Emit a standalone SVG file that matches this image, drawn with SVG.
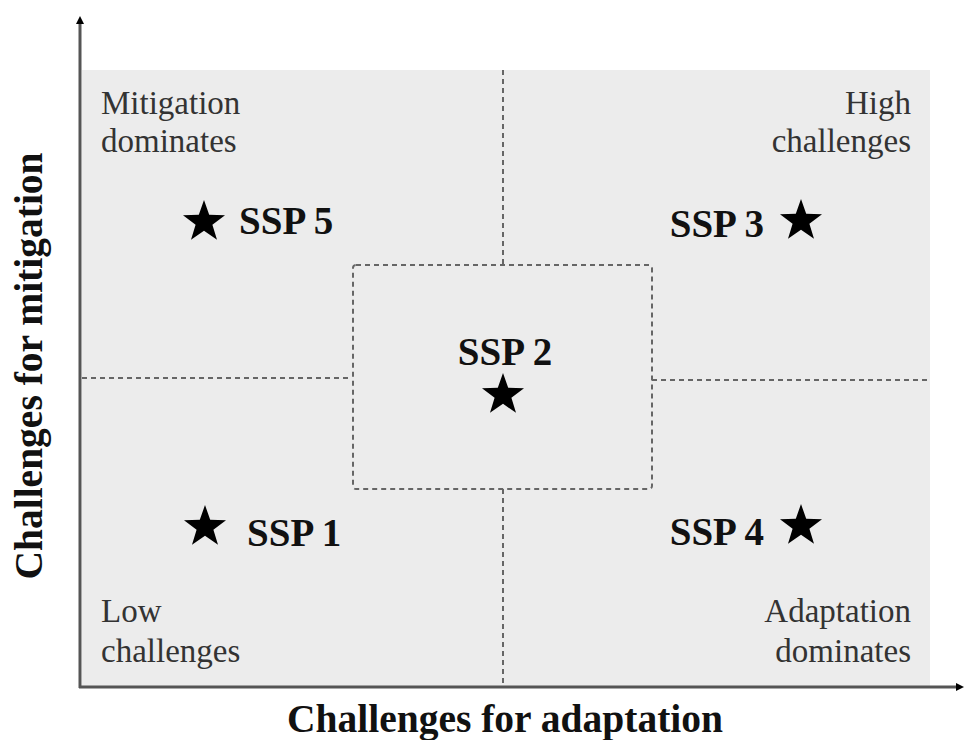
<svg xmlns="http://www.w3.org/2000/svg" width="967" height="740" viewBox="0 0 967 740">
<style>
.q{font-family:"Liberation Serif","Times New Roman",serif;font-size:33px;fill:#333}
.s{font-family:"Liberation Serif","Times New Roman",serif;font-size:39px;font-weight:bold;fill:#111}
.ax{font-family:"Liberation Serif","Times New Roman",serif;font-size:39.5px;font-weight:bold;fill:#111}
.d{stroke:#666;stroke-width:2;stroke-dasharray:5,4;fill:none}
.axis{stroke:#555;stroke-width:3;fill:none}
</style>
<defs>
<path id="star" d="M0,-22 L5.2,-7.2 L21,-6.8 L8.4,2.8 L13,17.8 L0,8.8 L-13,17.8 L-8.4,2.8 L-21,-6.8 L-5.2,-7.2 Z" fill="#000"/>
<marker id="ah" markerWidth="8" markerHeight="8" refX="4" refY="4" orient="auto" markerUnits="userSpaceOnUse"><path d="M0,0 L8,4 L0,8 Z" fill="#000"/></marker>
</defs>
<rect x="0" y="0" width="967" height="740" fill="#fff"/>
<rect x="82" y="70" width="848" height="616" fill="#ececec"/>
<g id="connectors">
<line class="d" x1="503" y1="70" x2="503" y2="265"/>
<line class="d" x1="503" y1="489" x2="503" y2="686"/>
<line class="d" x1="82" y1="378" x2="352" y2="378"/>
<line class="d" x1="652" y1="380" x2="930" y2="380"/>
<line class="axis" x1="80" y1="688" x2="80" y2="20" marker-end="url(#ah)"/>
<line class="axis" x1="79" y1="687" x2="960" y2="687" marker-end="url(#ah)"/>
</g>
<g id="ssp2box"><rect class="d" x="353" y="265" width="299" height="224" rx="3"/></g>
<g id="q-mitigation"><text class="q" x="101" y="114">Mitigation</text><text class="q" x="101" y="152">dominates</text></g>
<g id="q-high"><text class="q" x="911" y="114" text-anchor="end">High</text><text class="q" x="911" y="152" text-anchor="end">challenges</text></g>
<g id="q-low"><text class="q" x="101" y="622">Low</text><text class="q" x="101" y="662">challenges</text></g>
<g id="q-adaptation"><text class="q" x="911" y="622" text-anchor="end">Adaptation</text><text class="q" x="911" y="662" text-anchor="end">dominates</text></g>
<g id="ssp5"><use href="#star" x="204" y="222"/><text class="s" x="239" y="234">SSP 5</text></g>
<g id="ssp3"><use href="#star" x="801" y="221"/><text class="s" x="764" y="237" text-anchor="end">SSP 3</text></g>
<g id="ssp2"><text class="s" x="505" y="365" text-anchor="middle">SSP 2</text><use href="#star" x="503" y="395"/></g>
<g id="ssp1"><use href="#star" x="205" y="527"/><text class="s" x="247" y="546">SSP 1</text></g>
<g id="ssp4"><use href="#star" x="801" y="526"/><text class="s" x="764" y="545" text-anchor="end">SSP 4</text></g>
<g id="axis-labels">
<text class="ax" x="505" y="732" text-anchor="middle">Challenges for adaptation</text>
<text class="ax" transform="translate(42,366) rotate(-90)" text-anchor="middle">Challenges for mitigation</text>
</g>
</svg>
